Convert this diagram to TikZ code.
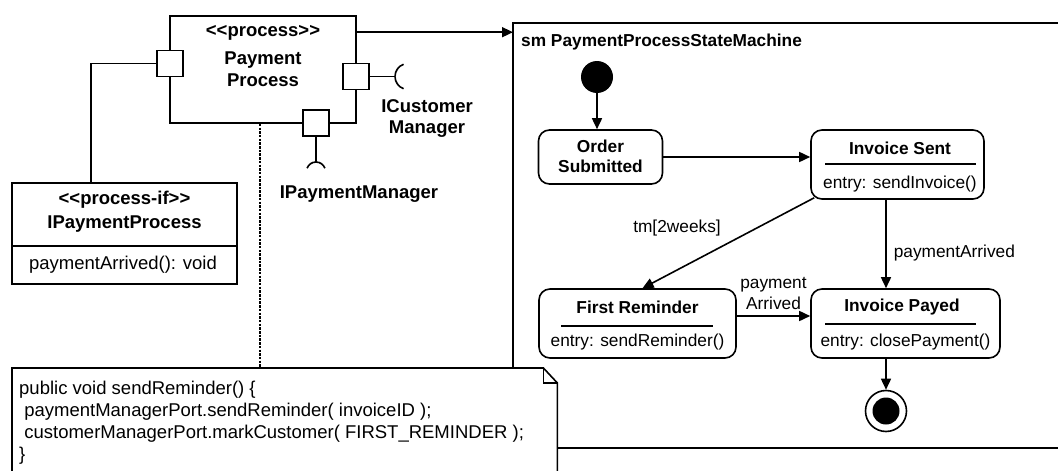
\documentclass[tikz,border=0pt]{standalone}
\usepackage{fontspec}
\setmainfont{Liberation Sans}[Ligatures=TeXOff]
\usetikzlibrary{arrows.meta,calc}
\begin{document}
\begin{tikzpicture}[x=1pt,y=-1pt,
  font=\fontsize{17.3}{21}\selectfont,
  ln/.style={line width=1.6pt},
  box/.style={draw, line width=1.6pt, fill=white, inner sep=0pt},
  port/.style={draw, line width=1.6pt, fill=white, minimum size=26pt, inner sep=0pt},
  statebox/.style={draw, line width=1.6pt, rounded corners=11pt, inner sep=0pt, fill=white},
  lbl/.style={inner sep=0pt, align=center},
  bl/.style={inner sep=0pt, align=center, font=\fontsize{17.3}{20}\selectfont\bfseries},
  lblbig/.style={inner sep=0pt, align=center, font=\fontsize{18.5}{22}\selectfont},
  blbig/.style={inner sep=0pt, align=center, font=\fontsize{18.5}{21}\selectfont\bfseries},
  arr/.style={line width=1.6pt, -{Triangle[length=11pt,width=10pt]}},
  dotline/.style={line width=1.4pt, dash pattern=on 2.5pt off 1.2pt}]
\useasboundingbox (0,0) rectangle (1058,471);

% state machine frame
\coordinate (fTL) at (513,23);
\coordinate (fBL) at (513,448);
\coordinate (fTR) at (1075,23);
\coordinate (fBR) at (1075,448);
\draw[ln] (fTR) -- (fTL) -- (fBL) -- (fBR);
\node[bl, anchor=west] (smlbl) at (521,42) {sm PaymentProcessStateMachine};

% component
\node[box, minimum width=186pt, minimum height=107pt] (comp) at (263,69.5) {};
\node[blbig] (cst) at (263,33) {<<process>>};
\node[blbig, font=\fontsize{18.5}{22}\selectfont\bfseries] (cname) at (263,69) {Payment\\Process};

% ports
\node[port] (lp) at (170,63.5) {};
\node[port] (rp) at (356,76.5) {};
\node[port] (bp) at (316,123) {};

% required interfaces (sockets)
\coordinate (rsock) at (395,76.5);
\draw[ln] (rp.east) -- (rsock);
\draw[ln] (rsock) arc[start angle=180, end angle=110, radius=13pt];
\draw[ln] (rsock) arc[start angle=180, end angle=250, radius=13pt];
\coordinate (bsock) at (316,162);
\draw[ln] (bp.south) -- (bsock);
\draw[ln] (bsock) arc[start angle=90, end angle=160, radius=9.5pt];
\draw[ln] (bsock) arc[start angle=90, end angle=20, radius=9.5pt];
\node[blbig] (icm) at (427,118.5) {ICustomer\\Manager};
\node[blbig] (ipm) at (359,194) {IPaymentManager};

% provided interface class
\node[box, minimum width=225pt, minimum height=63pt] (ifTop) at (124.5,214.5) {};
\node[box, minimum width=225pt, minimum height=38pt] (ifBot) at (124.5,265) {};
\node[blbig] (ifst) at (124.5,200) {<<process-if>>};
\node[blbig] (ifname) at (124.5,224) {IPaymentProcess};
\node[lblbig] (ifop) at (123,265) {paymentArrived(): void};
\draw[ln] (lp.west) -| ([xshift=-33.5pt]ifTop.north);

% arrow to state machine
\draw[arr] ([yshift=-17pt]comp.north east) -- ([yshift=-17pt]comp.north east -| fTL);

% states
\node[circle, fill=black, minimum size=32pt, inner sep=0pt] (init) at (597,77) {};
\node[statebox, minimum width=124pt, minimum height=54pt] (order) at (600.5,157) {};
\node[bl] (ordert) at (600.5,156) {Order\\Submitted};

\node[statebox, minimum width=173pt, minimum height=69pt] (sent) at (897.5,164.5) {};
\node[bl] (sentt) at (900,148) {Invoice Sent};
\node[lbl] (sente) at (900,184) {entry: sendInvoice()};
\draw[ln] ($(sent.north west)+(15,35)$) -- ($(sent.north east)+(-9,35)$);

\node[statebox, minimum width=197pt, minimum height=69pt] (remind) at (637.5,323.5) {};
\node[bl] (remindt) at (637.5,307) {First Reminder};
\node[lbl] (reminde) at (637.5,342) {entry: sendReminder()};
\draw[ln] ($(remind.north west)+(23,38)$) -- ($(remind.north east)+(-24,38)$);

\node[statebox, minimum width=189pt, minimum height=69pt] (payed) at (905.5,323.5) {};
\node[bl] (payedt) at (902,307) {Invoice Payed};
\node[lbl] (payede) at (905.5,342) {entry: closePayment()};
\draw[ln] ($(payed.north west)+(15,36)$) -- ($(payed.north east)+(-25,36)$);

\node[circle, draw, line width=1.6pt, minimum size=41pt, inner sep=0pt] (final) at (886,411) {};
\node[circle, fill=black, minimum size=27pt, inner sep=0pt] (finalin) at (final) {};

% transitions
\draw[arr] (init.south) -- (init |- order.north);
\draw[arr] (order.east) -- (order.east -| sent.west);
\draw[arr] ([xshift=4pt,yshift=2pt]sent.south west) -- ([xshift=5pt]remind.north);
\node[lbl] (tm) at (677,228) {tm[2weeks]};
\draw[arr] ([xshift=-11.5pt]sent.south) -- node[lbl, right=7pt, pos=0.6] (pa1) {paymentArrived} ([xshift=-11.5pt]sent.south |- payed.north);
\draw[arr] ([yshift=7.5pt]remind.east) -- node[lbl, above=6pt] (pa2) {payment\\Arrived} ([yshift=7.5pt]remind.east -| payed.west);
\draw[arr] ([xshift=-19.5pt]payed.south) -- ([xshift=-19.5pt]payed.south |- final.north);

% note
\node[inner sep=0pt, minimum width=545pt, minimum height=110pt, anchor=north west] (note) at (12,368) {};
\draw[ln, fill=white] (note.north west) -- ([xshift=-14pt]note.north east) -- ([yshift=-15pt]note.north east) -- (note.south east) -- (note.south west) -- cycle;
\draw[ln] ([xshift=-14pt]note.north east) |- ([yshift=-15pt]note.north east);
\node[inner sep=0pt, anchor=north west, align=left, font=\fontsize{18.5}{22}\selectfont] (code) at (19,381)
  {public void sendReminder() \{\\
  \ paymentManagerPort.sendReminder( invoiceID );\\
  \ customerManagerPort.markCustomer( FIRST\_REMINDER );\\
  \}};

% dependency (dotted) from component to note
\draw[dotline] ([xshift=-3pt]comp.south) -- ([xshift=-3pt]comp.south |- note.north);
\end{tikzpicture}
\end{document}
